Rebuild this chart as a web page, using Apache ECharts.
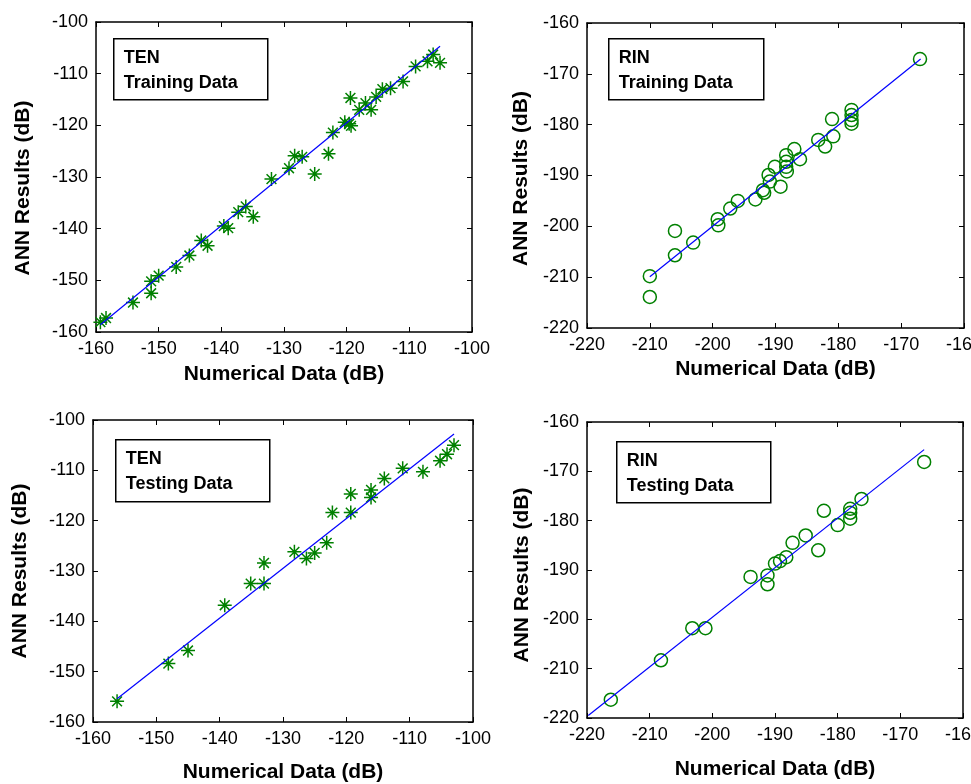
<!DOCTYPE html>
<html><head><meta charset="utf-8">
<script src="https://cdn.jsdelivr.net/npm/echarts@6.0.0/dist/echarts.min.js"></script>
<style>html,body{margin:0;padding:0;background:#fff}#c{width:971px;height:784px}</style>
</head><body><div id="c"></div>
<script>
// ---- data ----
const tenTrainX = [-159.3,-158.4,-154.1,-151.2,-151.2,-150.0,-147.2,-145.1,-143.2,-142.2,-139.6,-138.9,-137.3,-136.1,-134.9,-132.0,-129.2,-128.3,-127.1,-125.1,-122.9,-122.2,-120.3,-119.6,-119.3,-119.4,-118.0,-117.0,-116.1,-115.3,-114.3,-113.0,-111.0,-109.0,-107.1,-106.2,-105.1];
const tenTrainY = [-158.1,-157.3,-154.3,-152.5,-150.2,-149.1,-147.4,-145.2,-142.3,-143.3,-139.5,-139.9,-136.8,-135.7,-137.7,-130.4,-128.3,-125.9,-126.1,-129.4,-125.5,-121.4,-119.4,-119.7,-120.1,-114.7,-117.0,-115.7,-117.0,-114.5,-113.0,-112.8,-111.5,-108.6,-107.6,-106.3,-107.9];
const tenTrainLineX = [-159.3,-105.1];
const tenTrainLineY = [-158.6,-104.7];

const rinTrainX = [-210.0,-210.0,-206.0,-206.0,-203.1,-199.2,-199.1,-197.2,-196.0,-193.2,-192.0,-191.8,-191.1,-190.9,-190.1,-189.2,-188.3,-188.3,-188.3,-188.2,-187.0,-186.1,-183.2,-182.1,-181.0,-180.8,-177.9,-177.9,-177.9,-177.9,-167.0];
const rinTrainY = [-209.8,-213.9,-200.9,-205.7,-203.2,-198.6,-199.8,-196.5,-195.0,-194.7,-192.9,-193.4,-189.9,-191.2,-188.3,-192.2,-186.0,-187.3,-188.3,-189.2,-184.8,-186.8,-183.0,-184.3,-178.9,-182.3,-177.1,-178.1,-179.1,-179.8,-167.1];
const rinTrainLineX = [-210.0,-166.9];
const rinTrainLineY = [-209.9,-167.1];

const tenTestX = [-156.2,-148.1,-145.0,-139.2,-135.1,-133.0,-133.0,-128.2,-126.3,-125.0,-123.1,-122.2,-119.3,-119.3,-116.1,-116.1,-114.0,-111.1,-107.9,-105.2,-104.1,-103.0];
const tenTestY = [-155.9,-148.4,-145.8,-136.8,-132.5,-132.5,-128.4,-126.2,-127.5,-126.4,-124.4,-118.4,-114.7,-118.4,-113.9,-115.4,-111.6,-109.6,-110.3,-108.1,-106.8,-105.0];
const tenTestLineX = [-156.2,-103.0];
const tenTestLineY = [-155.4,-102.8];

const rinTestX = [-216.2,-208.2,-203.2,-201.1,-193.9,-191.2,-191.2,-190.0,-189.2,-188.2,-187.2,-185.1,-183.1,-182.2,-180.0,-178.0,-178.0,-178.0,-176.2,-166.2];
const rinTestY = [-216.3,-208.3,-201.8,-201.8,-191.4,-191.1,-192.9,-188.7,-188.2,-187.4,-184.5,-183.0,-186.0,-178.0,-180.9,-177.6,-178.4,-179.6,-175.6,-168.1];
const rinTestLineX = [-219.8,-166.2];
const rinTestLineY = [-219.5,-165.6];

const tenRange = [-160, -100];
const rinRange = [-220, -160];
const xTitle = 'Numerical Data (dB)';
const yTitle = 'ANN Results (dB)';
const boxTitles = [['TEN','Training Data'],['RIN','Training Data'],['TEN','Testing Data'],['RIN','Testing Data']];

// ---- layout ----
const FONT = "'Liberation Sans', Arial, sans-serif";
const GREEN = '#008000';
const panels = [
  {grid:{left:96,top:22,width:376,height:310}, range:tenRange, x:tenTrainX, y:tenTrainY, lx:tenTrainLineX, ly:tenTrainLineY, star:true, xGap:32, yGap:62, yPad:[0,22,0,0], box:[113,38,154,61]},
  {grid:{left:587,top:23,width:377,height:305}, range:rinRange, x:rinTrainX, y:rinTrainY, lx:rinTrainLineX, ly:rinTrainLineY, star:false, xGap:31, yGap:55, yPad:[0,6,0,0], box:[608,38,155,61]},
  {grid:{left:93,top:420,width:380,height:302}, range:tenRange, x:tenTestX, y:tenTestY, lx:tenTestLineX, ly:tenTestLineY, star:true, xGap:40, yGap:62, yPad:[0,0,0,0], box:[115,439,154,62]},
  {grid:{left:587,top:422,width:376,height:296}, range:rinRange, x:rinTestX, y:rinTestY, lx:rinTestLineX, ly:rinTestLineY, star:false, xGap:41, yGap:54, yPad:[0,10,0,0], box:[616,441,154,61]}
];

const STAR = 'path://M10,0L10,20M0,10L20,10M3,3L17,17M3,17L17,3';

const grid = [], xAxis = [], yAxis = [], series = [], graphic = [];
panels.forEach((p, i) => {
  grid.push(Object.assign({containLabel:false, outerBoundsMode:'none', show:false}, p.grid));
  const common = {
    type:'value', min:p.range[0], max:p.range[1], interval:10, gridIndex:i,
    axisLine:{show:true, onZero:false, lineStyle:{color:'#000', width:1.5}},
    axisTick:{show:true, inside:true, length:5, lineStyle:{color:'#000', width:1}},
    splitLine:{show:false}
  };
  xAxis.push(Object.assign({}, common, {
    position:'bottom',
    axisLabel:{show:true, color:'#000', fontSize:18, fontFamily:FONT, margin:8, hideOverlap:false},
    name:xTitle, nameLocation:'middle', nameGap:p.xGap,
    nameTextStyle:{color:'#000', fontSize:21, fontWeight:'bold', fontFamily:FONT}
  }));
  xAxis.push(Object.assign({}, common, {position:'top', axisLabel:{show:false}}));
  yAxis.push(Object.assign({}, common, {
    position:'left',
    axisLabel:{show:true, color:'#000', fontSize:18, fontFamily:FONT, margin:8},
    name:yTitle, nameLocation:'middle', nameGap:p.yGap,
    nameTextStyle:{color:'#000', fontSize:21, fontWeight:'bold', fontFamily:FONT, padding:p.yPad}
  }));
  yAxis.push(Object.assign({}, common, {position:'right', axisLabel:{show:false}}));

  series.push({
    type:'scatter', xAxisIndex:2*i, yAxisIndex:2*i,
    data:p.x.map((v,k)=>[v,p.y[k]]),
    symbol:p.star ? STAR : 'circle',
    symbolSize:p.star ? 14 : 13,
    itemStyle:{color:'rgba(0,0,0,0)', borderColor:GREEN, borderWidth:1.5, opacity:1},
    z:3, silent:true
  });
  series.push({
    type:'line', xAxisIndex:2*i, yAxisIndex:2*i,
    data:p.lx.map((v,k)=>[v,p.ly[k]]),
    symbol:'none', lineStyle:{color:'#0000ff', width:1.2}, z:4, silent:true
  });

  const [bx,by,bw,bh] = p.box;
  graphic.push({
    type:'group', left:bx, top:by, children:[
      {type:'rect', shape:{x:0,y:0,width:bw,height:bh}, style:{fill:'#fff', stroke:'#000', lineWidth:1.5}},
      {type:'text', x:10, y:19, style:{text:boxTitles[i][0], font:"bold 18px "+FONT, fill:'#000', verticalAlign:'middle'}},
      {type:'text', x:10, y:44, style:{text:boxTitles[i][1], font:"bold 18px "+FONT, fill:'#000', verticalAlign:'middle'}}
    ]
  });
});

const chart = echarts.init(document.getElementById('c'), null, {renderer:'canvas'});
chart.setOption({
  backgroundColor:'#fff', animation:false,
  grid, xAxis, yAxis, series, graphic
});
</script>
</body></html>
